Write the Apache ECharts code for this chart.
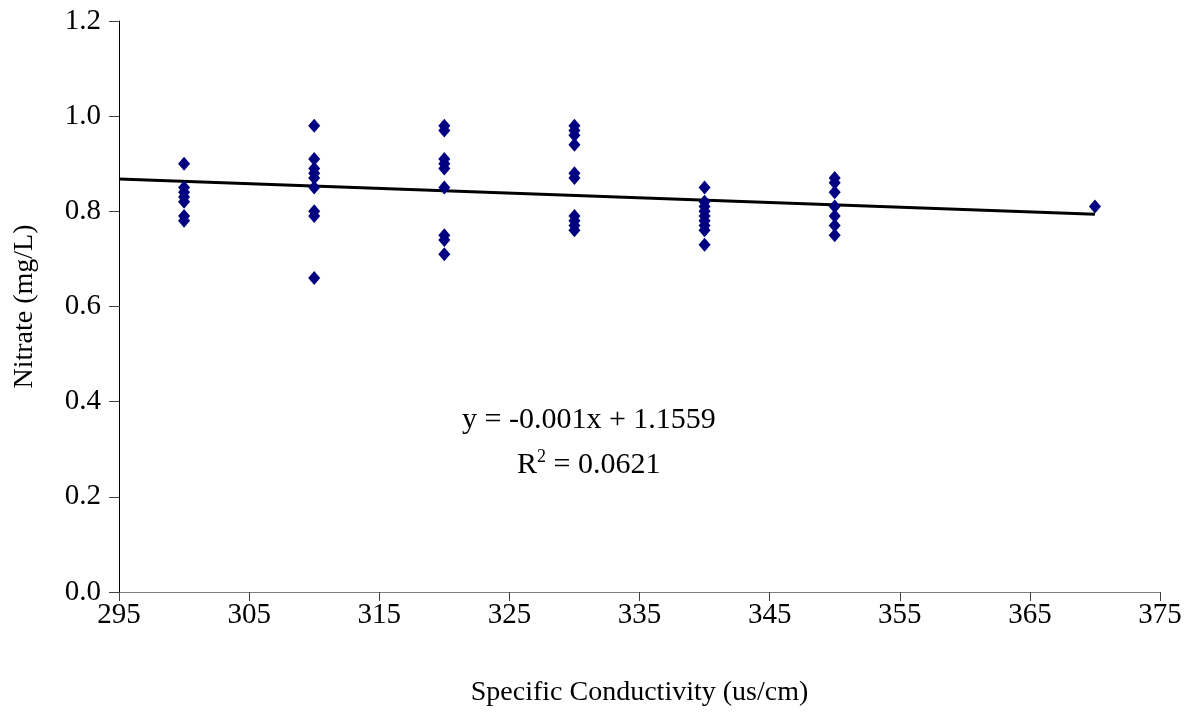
<!DOCTYPE html>
<html>
<head>
<meta charset="utf-8">
<script src="https://cdn.jsdelivr.net/npm/echarts@6/dist/echarts.min.js"></script>
<style>
  html, body { margin: 0; padding: 0; background: #fff; }
  #chart { width: 1191px; height: 715px; }
</style>
</head>
<body>
<div id="chart"></div>
<script>
// conductivity groups and their nitrate readings
const conductivity = [300, 310, 320, 330, 340, 350, 370];
const nitrate300 = [0.90, 0.85, 0.84, 0.83, 0.82, 0.79, 0.78];
const nitrate310 = [0.98, 0.91, 0.89, 0.88, 0.87, 0.85, 0.80, 0.79, 0.66];
const nitrate320 = [0.98, 0.97, 0.91, 0.90, 0.89, 0.85, 0.75, 0.74, 0.71];
const nitrate330 = [0.98, 0.97, 0.96, 0.94, 0.88, 0.87, 0.79, 0.78, 0.77, 0.76];
const nitrate340 = [0.85, 0.82, 0.81, 0.80, 0.79, 0.78, 0.77, 0.76, 0.73];
const nitrate350 = [0.87, 0.86, 0.84, 0.81, 0.79, 0.77, 0.75];
const nitrate370 = [0.81];
const trendX = [295, 370];
const trendY = [0.868, 0.794];
const xTicks = [295, 375, 10];
const yTicks = [0, 1.2, 0.2];

const groups = [nitrate300, nitrate310, nitrate320, nitrate330, nitrate340, nitrate350, nitrate370];
const points = [];
groups.forEach((g, i) => {
  g.forEach(v => points.push([conductivity[i], v]));
});
const trend = trendX.map((x, i) => [x, trendY[i]]);

const font = '"Liberation Serif", "Times New Roman", serif';

let myChart = echarts.init(document.getElementById('chart'));
myChart.setOption({
  animation: false,
  backgroundColor: '#fff',
  grid: { left: 119, right: 31, top: 21, bottom: 123, containLabel: false, outerBoundsMode: 'none' },
  xAxis: {
    type: 'value',
    min: xTicks[0],
    max: xTicks[1],
    interval: xTicks[2],
    name: 'Specific Conductivity (us/cm)',
    nameLocation: 'middle',
    nameGap: 87,
    nameTextStyle: { fontFamily: font, fontSize: 28, color: '#000' },
    axisLine: { lineStyle: { color: '#808080' } },
    axisTick: { show: true, inside: false, length: 9, lineStyle: { color: '#404040' } },
    axisLabel: { fontFamily: font, fontSize: 29, color: '#000', margin: 9 },
    splitLine: { show: false }
  },
  yAxis: {
    type: 'value',
    min: yTicks[0],
    max: yTicks[1],
    interval: yTicks[2],
    name: 'Nitrate (mg/L)',
    nameLocation: 'middle',
    nameGap: 80,
    nameRotate: 90,
    nameTextStyle: { fontFamily: font, fontSize: 28, color: '#000' },
    axisLine: { show: true, onZero: false, lineStyle: { color: '#000' } },
    axisTick: { show: true, inside: false, length: 10, lineStyle: { color: '#404040' } },
    axisLabel: {
      fontFamily: font, fontSize: 29, color: '#000', margin: 18,
      formatter: v => v.toFixed(1)
    },
    splitLine: { show: false }
  },
  series: [
    {
      type: 'line',
      data: trend,
      symbol: 'none',
      lineStyle: { color: '#000', width: 3 },
      z: 3
    },
    {
      type: 'scatter',
      data: points,
      symbol: 'diamond',
      symbolSize: [12, 14],
      itemStyle: { color: '#000080', opacity: 1 },
      z: 4
    }
  ],
  graphic: [
    {
      type: 'text',
      left: 462,
      top: 405,
      style: {
        text: 'y = -0.001x + 1.1559',
        font: '30px ' + font,
        fill: '#000'
      }
    },
    {
      type: 'text',
      left: 517,
      top: 448,
      style: {
        text: '{a|R}{s|2}{a| = 0.0621}',
        fill: '#000',
        rich: {
          a: { fontFamily: font, fontSize: 30, color: '#000', verticalAlign: 'bottom' },
          s: { fontFamily: font, fontSize: 18, color: '#000', verticalAlign: 'top', padding: [0, 0, 14, 0] }
        }
      }
    }
  ]
});
</script>
</body>
</html>
